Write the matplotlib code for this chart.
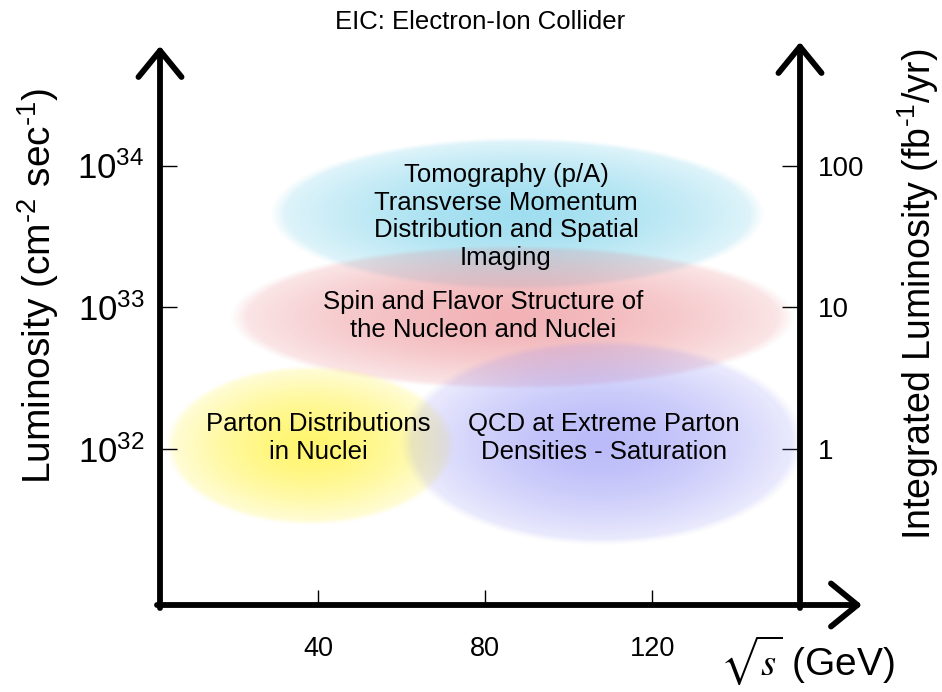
import numpy as np
import matplotlib
matplotlib.use('Agg')
import matplotlib.pyplot as plt
from matplotlib.patches import FancyArrowPatch, ArrowStyle

plt.rcParams['font.family'] = ['Liberation Sans', 'DejaVu Sans']
plt.rcParams['mathtext.fontset'] = 'custom'
plt.rcParams['mathtext.rm'] = 'Liberation Sans'
plt.rcParams['mathtext.it'] = 'Liberation Sans:italic'
plt.rcParams['mathtext.bf'] = 'Liberation Sans:bold'

# physics regions: sqrt(s) range (GeV) and luminosity range as log10(L / cm^-2 s^-1)
regions = ['Tomography (p/A)\nTransverse Momentum\nDistribution and Spatial\nImaging',
           'Spin and Flavor Structure of\nthe Nucleon and Nuclei',
           'Parton Distributions\nin Nuclei',
           'QCD at Extreme Parton\nDensities - Saturation']
sqrts_lo = [28.5, 18.9, 3.4, 59.6]
sqrts_hi = [147.1, 154.3, 72.8, 156.6]
lumi_lo = [33.12, 32.42, 31.46, 31.32]
lumi_hi = [34.20, 33.44, 32.59, 32.77]
label_sqrts = [85.0, 79.5, 40.0, 108.5]
label_lumi = [33.64, 32.94, 32.08, 32.08]

sqrts_ticks = [40, 80, 120]
lumi_ticks = [32, 33, 34]
lumi_ticklabels = ['$10^{32}$', '$10^{33}$', '$10^{34}$']
intlumi_ticks = [1, 10, 100]  # fb^-1/yr, same positions as 1e32..1e34

region_colors = [(0.35, 0.78, 0.90), (0.90, 0.40, 0.43), (1.0, 0.95, 0.22), (0.47, 0.47, 0.96)]
region_alpha = [0.58, 0.5, 0.72, 0.5]
region_edge = [0.28, 0.28, 0.22, 0.25]

XLIM = (2.16, 155.4)
YLIM = (30.9, 34.85)

fig = plt.figure(figsize=(9.42, 6.92), dpi=100)
ax = fig.add_axes([160 / 942, 87 / 692, 640 / 942, 560 / 692])
ax.set_xlim(*XLIM)
ax.set_ylim(*YLIM)
for s in ax.spines.values():
    s.set_visible(False)

# soft radial-gradient ellipses
xs = np.linspace(XLIM[0], XLIM[1], 900)
ys = np.linspace(YLIM[0], YLIM[1], 700)
X, Y = np.meshgrid(xs, ys)
for i in range(len(regions)):
    cx = (sqrts_lo[i] + sqrts_hi[i]) / 2
    cy = (lumi_lo[i] + lumi_hi[i]) / 2
    rx = (sqrts_hi[i] - sqrts_lo[i]) / 2
    ry = (lumi_hi[i] - lumi_lo[i]) / 2
    r = np.sqrt(((X - cx) / rx) ** 2 + ((Y - cy) / ry) ** 2)
    fall = 1 - (1 - region_edge[i]) * np.clip(r, 0, 1) ** 1.6
    alpha = region_alpha[i] * fall * np.clip((1 - r) / 0.06, 0, 1)
    img = np.zeros(X.shape + (4,))
    img[..., :3] = region_colors[i]
    img[..., 3] = alpha
    ax.imshow(img, extent=[XLIM[0], XLIM[1], YLIM[0], YLIM[1]], origin='lower',
              aspect='auto', interpolation='bilinear', zorder=1)

for i, lab in enumerate(regions):
    ax.text(label_sqrts[i], label_lumi[i], lab, ha='center', va='center',
            multialignment='center', fontsize=18.5, zorder=4)

ax.set_xticks(sqrts_ticks)
ax.set_yticks(lumi_ticks, labels=lumi_ticklabels)
ax.tick_params(axis='x', direction='in', length=11, width=1, pad=22, labelsize=19.5)
ax.tick_params(axis='y', direction='in', length=12, width=1, pad=11, labelsize=25)

sec = ax.secondary_yaxis('right', functions=(lambda e: 10 ** (e - 32),
                                             lambda v: np.log10(np.maximum(v, 1e-12)) + 32))
sec.set_yticks(intlumi_ticks, labels=[str(v) for v in intlumi_ticks])
sec.tick_params(direction='in', length=13, width=1, pad=13, labelsize=20)
sec.spines['right'].set_visible(False)

def arrow(p0, p1):
    ax.add_patch(FancyArrowPatch(p0, p1, transform=ax.transAxes,
                                 arrowstyle=ArrowStyle('->', head_length=19, head_width=15.5),
                                 mutation_scale=1, lw=4.2, color='black', capstyle='round',
                                 joinstyle='round', clip_on=False, zorder=5,
                                 shrinkA=0, shrinkB=0))

arrow((-3 / 640, 0), ((862 - 160) / 640, 0))
arrow((0, -3 / 560), (0, (605 - 46) / 560))
arrow((1, -3 / 560), (1, (605 - 42) / 560))

fig.text(480 / 942, 1 - 22 / 692, 'EIC: Electron-Ion Collider', ha='center', va='center', fontsize=18.5)
fig.text(38 / 942, 1 - 286 / 692, r'Luminosity (cm$^{\text{-}2}$ sec$^{\text{-}1}$)', rotation=90,
         ha='center', va='center', fontsize=28)
fig.text(918 / 942, 1 - 294 / 692, r'Integrated Luminosity (fb$^{\text{-}1}$/yr)', rotation=90,
         ha='center', va='center', fontsize=27)
fig.text(807 / 942, 1 - 660 / 692, r'$\sqrt{s}$ (GeV)', ha='center', va='center',
         fontsize=28, math_fontfamily='stix')

fig.savefig('out.png', dpi=100)
